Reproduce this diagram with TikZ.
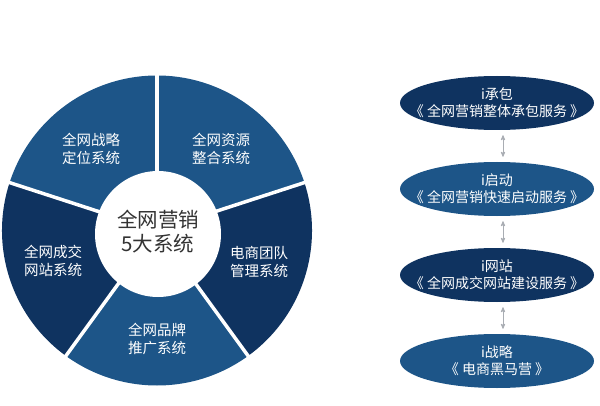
\documentclass[tikz,border=0pt]{standalone}
\usepackage{fontspec}
\setmainfont{Noto Sans CJK SC}
\usetikzlibrary{arrows,positioning,shapes.geometric}
\definecolor{pielight}{HTML}{1D5588}
\definecolor{piedark}{HTML}{0F3360}
\definecolor{arrowgray}{HTML}{A9ADB3}
\tikzset{
    %Define standard arrow tip
    >=stealth',
    %Define style for sector labels
    sektor/.style={
           text=white,
           align=center,
           font=\fontsize{14.5}{18.5}\selectfont},
    %Define style for service ellipses
    oval/.style={
           ellipse,
           minimum width=194pt,
           minimum height=54pt,
           inner sep=0pt},
    ovaltext/.style={
           text=white,
           align=center,
           font=\fontsize{14}{17}\selectfont},
    % Define arrow style
    pil/.style={
           <->,
           draw=arrowgray,
           line width=0.8pt,
           shorten <=5pt,
           shorten >=5pt,}
}
\begin{document}
\begin{tikzpicture}[x=1pt,y=1pt]
 \useasboundingbox (0,0) rectangle (600,405);

 %Pie
 \coordinate (c) at (157,174.5);
 \foreach \a/\b/\col in {90/162/pielight,18/90/pielight,-54/18/piedark,-126/-54/pielight,162/234/piedark}
   \fill[\col] (c) -- ++(\a:155) arc (\a:\b:155) -- cycle;
 \foreach \a in {90,18,-54,-126,162}
   \draw[white,line width=3.5pt] (c) -- ++(\a:158);
 \node[circle,fill=white,minimum size=126pt,inner sep=0pt] (hub) at (158,171) {};
 \node[align=center,text=black!80,font=\fontsize{20.5}{24}\selectfont] (title) at (158,173) {全网营销\\5大系统};

 \node[sektor] (strategy) at (91,256) {全网战略\\定位系统};
 \node[sektor] (resource) at (221,256) {全网资源\\整合系统};
 \node[sektor] (team) at (259,143) {电商团队\\管理系统};
 \node[sektor] (website) at (53,144) {全网成交\\网站系统};
 \node[sektor] (brand) at (157,66) {全网品牌\\推广系统};

%%%%%
 %Services
 \node[oval,fill=piedark,label={[ovaltext]center:i承包\\《 全网营销整体承包服务 》}] (e1) at (497,302) {};
 \node[oval,fill=pielight,label={[ovaltext]center:i启动\\《 全网营销快速启动服务 》}] (e2) at (497,216) {};
 \node[oval,fill=piedark,label={[ovaltext]center:i网站\\《 全网成交网站建设服务 》}] (e3) at (497,130) {};
 \node[oval,fill=pielight,label={[ovaltext]center:i战略\\《 电商黑马营 》}] (e4) at (497,44) {};

 \draw[pil] ([xshift=6pt]e1.south) -- ([xshift=6pt]e2.north);
 \draw[pil] ([xshift=6pt]e2.south) -- ([xshift=6pt]e3.north);
 \draw[pil] ([xshift=6pt]e3.south) -- ([xshift=6pt]e4.north);
\end{tikzpicture}
\end{document}
